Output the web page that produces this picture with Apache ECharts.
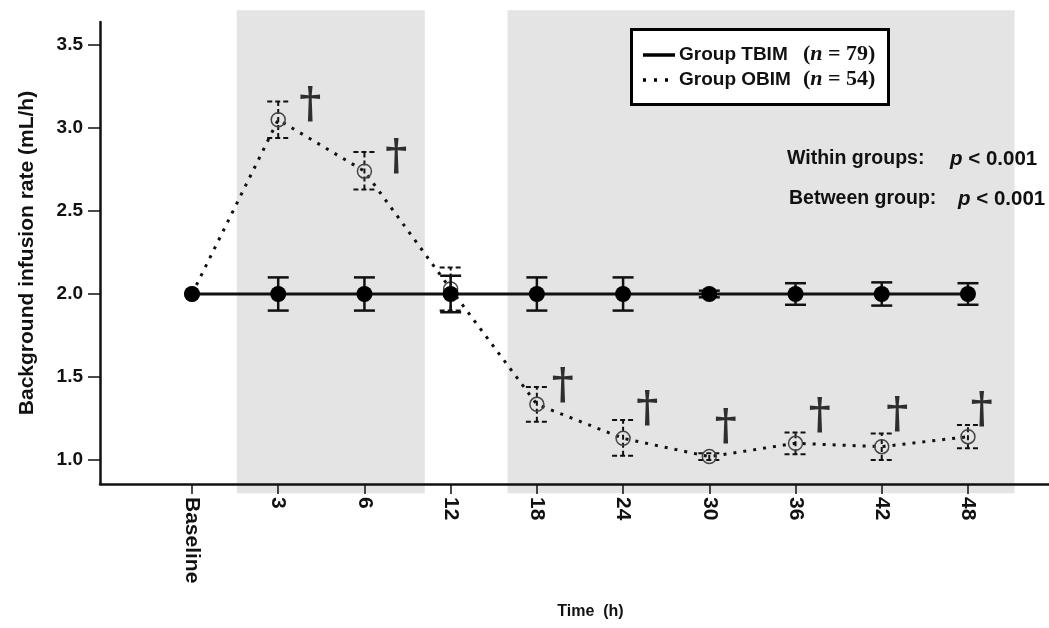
<!DOCTYPE html>
<html><head><meta charset="utf-8">
<script src="https://cdn.jsdelivr.net/npm/echarts@6/dist/echarts.min.js"></script>
<style>html,body{margin:0;padding:0;background:#fff}#c{width:1049px;height:628px}</style>
</head><body><div id="c"></div>
<script>
// ---- data ----
const categories = ['Baseline','3','6','12','18','24','30','36','42','48'];
const tbimMean = [2.0, 2.0, 2.0, 2.0, 2.0, 2.0, 2.0, 2.0, 2.0, 2.0];
const tbimErr  = [0, 0.10, 0.10, 0.11, 0.10, 0.10, 0.02, 0.065, 0.07, 0.065];
const obimMean = [2.0, 3.05, 2.74, 2.03, 1.335, 1.13, 1.02, 1.10, 1.08, 1.14];
const obimLow  = [2.0, 2.94, 2.63, 1.90, 1.23, 1.025, 1.00, 1.035, 1.00, 1.07];
const obimHigh = [2.0, 3.16, 2.855, 2.16, 1.44, 1.24, 1.04, 1.165, 1.16, 1.21];
const daggerX  = [1.37, 2.37, 4.30, 5.28, 6.19, 7.28, 8.18, 9.16];
const daggerY  = [3.13, 2.82, 1.44, 1.30, 1.19, 1.26, 1.265, 1.295];
const shadeX   = [[0.52, 2.70], [3.66, 9.54]];
const shadeY   = [3.71, 0.80];
const yTicks   = [1.0, 1.5, 2.0, 2.5, 3.0, 3.5];
const xTicks   = categories.map((c, i) => i);

const F = 'Liberation Sans, Arial, sans-serif';
const FS = 'Liberation Serif, Times New Roman, serif';

function errRender(half, dashed, width) {
  return function (params, api) {
    const i = api.value(0);
    const lo = api.coord([i, api.value(1)]);
    const hi = api.coord([i, api.value(2)]);
    const style = { stroke: '#111', lineWidth: width, lineDash: dashed ? [5, 3] : null, fill: null };
    return { type: 'group', children: [
      { type: 'line', shape: { x1: lo[0], y1: lo[1], x2: hi[0], y2: hi[1] }, style },
      { type: 'line', shape: { x1: lo[0] - half, y1: lo[1], x2: lo[0] + half, y2: lo[1] }, style },
      { type: 'line', shape: { x1: hi[0] - half, y1: hi[1], x2: hi[0] + half, y2: hi[1] }, style }
    ]};
  };
}

const tbimErrData = [], obimErrData = [];
for (let i = 1; i < categories.length; i++) {
  tbimErrData.push([i, tbimMean[i] - tbimErr[i], tbimMean[i] + tbimErr[i]]);
  obimErrData.push([i, obimLow[i], obimHigh[i]]);
}

const richItalic = (font, size) => ({ i: { fontFamily: font, fontStyle: 'italic', fontWeight: 'bold', fontSize: size, fill: '#111' } });

const chart = echarts.init(document.getElementById('c'), null, { renderer: 'canvas' });
chart.setOption({
  animation: false,
  backgroundColor: '#fff',
  grid: { left: 100, right: 0, top: 22, bottom: 144 },
  xAxis: {
    type: 'value', min: -1.067, max: 9.94, z: 10,
    name: 'Time  (h)', nameLocation: 'middle', nameGap: 120,
    nameTextStyle: { fontFamily: F, fontWeight: 'bold', fontSize: 16, color: '#111', padding: [0, 0, 0, 32] },
    axisLine: { show: true, onZero: false, lineStyle: { color: '#111', width: 2.5 } },
    axisTick: { show: true, customValues: xTicks, length: 10, lineStyle: { color: '#111', width: 1.5 } },
    axisLabel: { customValues: xTicks, rotate: -90, margin: 13, fontFamily: F, fontWeight: 'bold', fontSize: 21, color: '#111',
      formatter: v => categories[Math.round(v)] },
    splitLine: { show: false }
  },
  yAxis: {
    type: 'value', min: 0.855, max: 3.639, z: 10,
    name: 'Background infusion rate (mL/h)', nameLocation: 'middle', nameGap: 62,
    nameTextStyle: { fontFamily: F, fontWeight: 'bold', fontSize: 21, color: '#111' },
    axisLine: { show: true, onZero: false, lineStyle: { color: '#111', width: 2.5 } },
    axisTick: { show: true, customValues: yTicks, length: 12, lineStyle: { color: '#111', width: 1.5 } },
    axisLabel: { customValues: yTicks, margin: 17, fontFamily: F, fontWeight: 'bold', fontSize: 19, color: '#111',
      formatter: v => v.toFixed(1) },
    splitLine: { show: false }
  },
  series: [
    { type: 'custom', z: 0, clip: false, silent: true,
      data: shadeX.map(r => [r[0], r[1]]),
      renderItem: (params, api) => {
        const p0 = api.coord([api.value(0), shadeY[0]]);
        const p1 = api.coord([api.value(1), shadeY[1]]);
        return { type: 'rect', shape: { x: p0[0], y: p0[1], width: p1[0] - p0[0], height: p1[1] - p0[1] },
          style: { fill: '#e4e4e4' } };
      } },
    { type: 'custom', z: 3, data: obimErrData, renderItem: errRender(11, true, 2) },
    { type: 'line', z: 4, name: 'Group OBIM', data: obimMean.map((v, i) => [i, v]),
      symbol: 'circle', symbolSize: 14, showSymbol: true,
      lineStyle: { color: '#111', width: 3, type: [3, 7] },
      itemStyle: { color: 'rgba(0,0,0,0)', borderColor: '#444', borderWidth: 1.5 } },
    { type: 'custom', z: 5, data: tbimErrData, renderItem: errRender(10.5, false, 2.5) },
    { type: 'line', z: 6, name: 'Group TBIM', data: tbimMean.map((v, i) => [i, v]),
      symbol: 'circle', symbolSize: 16, showSymbol: true,
      lineStyle: { color: '#111', width: 3 },
      itemStyle: { color: '#000', borderWidth: 0 } },
    { type: 'scatter', z: 7, symbolSize: 0, silent: true,
      data: daggerX.map((x, i) => [x, daggerY[i]]),
      label: { show: true, position: 'inside', formatter: '\u2020', fontFamily: 'DejaVu Serif, serif', fontWeight: 'bold', fontSize: 42, color: '#000' } }
  ],
  graphic: [
    { type: 'rect', left: 630, top: 28, shape: { width: 257, height: 75 }, style: { fill: '#fff', stroke: '#000', lineWidth: 3 }, z: 20 },
    { type: 'line', shape: { x1: 643, y1: 55, x2: 675, y2: 55 }, style: { stroke: '#000', lineWidth: 3.5 }, z: 21 },
    { type: 'line', shape: { x1: 643, y1: 80, x2: 675, y2: 80 }, style: { stroke: '#000', lineWidth: 3.5, lineDash: [3, 8] }, z: 21 },
    { type: 'text', x: 679, y: 55, style: { text: 'Group TBIM', fontFamily: F, fontWeight: 'bold', fontSize: 19, fill: '#111', verticalAlign: 'middle' }, z: 21 },
    { type: 'text', x: 679, y: 80, style: { text: 'Group OBIM', fontFamily: F, fontWeight: 'bold', fontSize: 19, fill: '#111', verticalAlign: 'middle' }, z: 21 },
    { type: 'text', x: 803, y: 54, style: { text: '({i|n} = 79)', fontFamily: FS, fontWeight: 'bold', fontSize: 22, fill: '#111', verticalAlign: 'middle', rich: richItalic(FS, 22) }, z: 21 },
    { type: 'text', x: 803, y: 79, style: { text: '({i|n} = 54)', fontFamily: FS, fontWeight: 'bold', fontSize: 22, fill: '#111', verticalAlign: 'middle', rich: richItalic(FS, 22) }, z: 21 },
    { type: 'text', x: 787, y: 159, style: { text: 'Within groups:', fontFamily: F, fontWeight: 'bold', fontSize: 19.5, fill: '#111', verticalAlign: 'middle' }, z: 21 },
    { type: 'text', x: 950, y: 159, style: { text: '{i|p} < 0.001', fontFamily: F, fontWeight: 'bold', fontSize: 20.5, fill: '#111', verticalAlign: 'middle', rich: richItalic(F, 20.5) }, z: 21 },
    { type: 'text', x: 789, y: 199, style: { text: 'Between group:', fontFamily: F, fontWeight: 'bold', fontSize: 19.5, fill: '#111', verticalAlign: 'middle' }, z: 21 },
    { type: 'text', x: 958, y: 199, style: { text: '{i|p} < 0.001', fontFamily: F, fontWeight: 'bold', fontSize: 20.5, fill: '#111', verticalAlign: 'middle', rich: richItalic(F, 20.5) }, z: 21 }
  ]
});
</script></body></html>
